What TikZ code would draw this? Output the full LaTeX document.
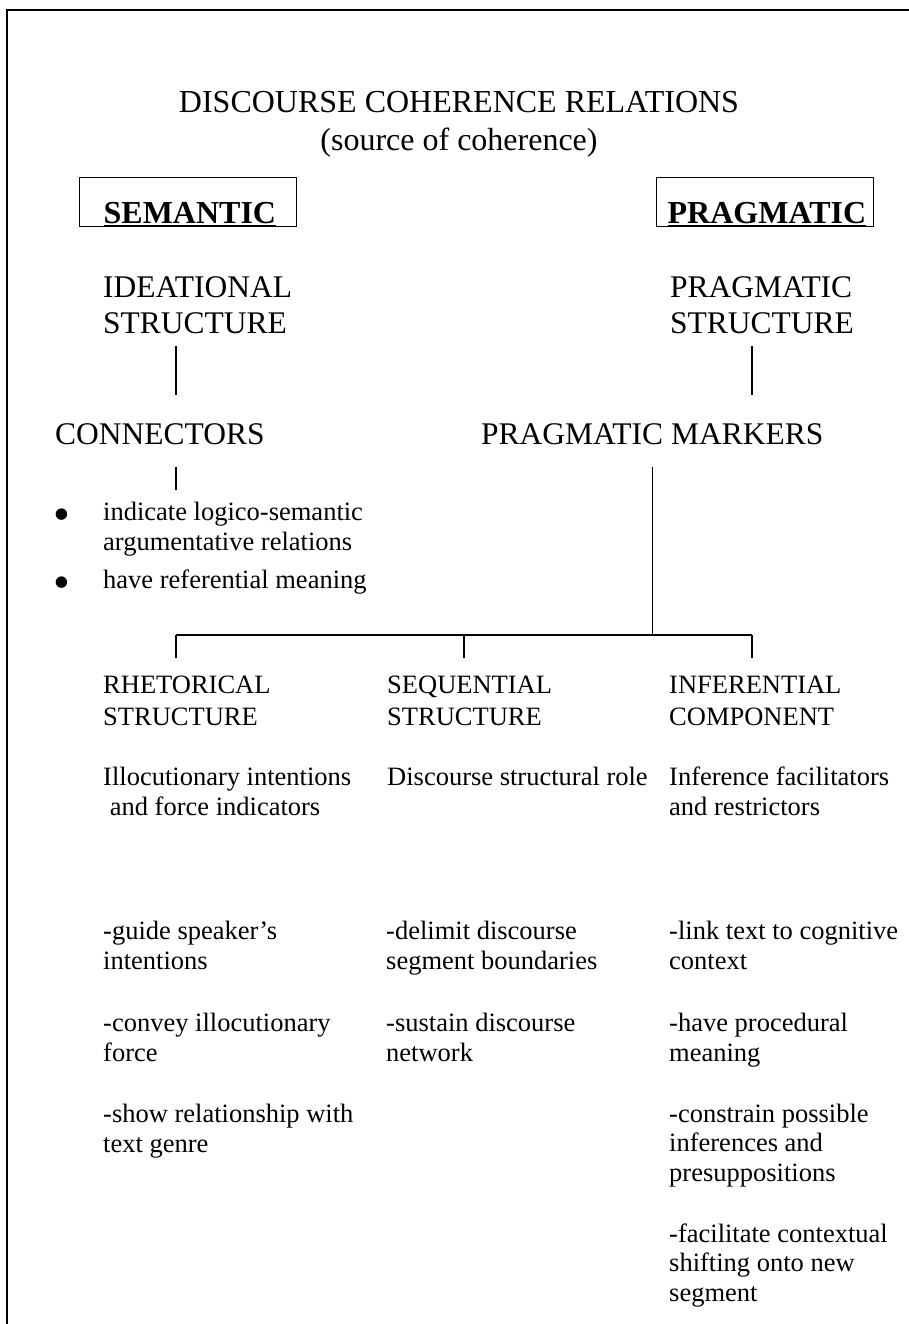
\documentclass[tikz,border=0pt]{standalone}
\usepackage{fontspec}
\setmainfont{Liberation Serif}
\usepackage{tikz}
\newcommand{\dctitle}{\fontsize{32}{38}\selectfont}
\newcommand{\dchead}{\fontsize{31.5}{36}\selectfont}
\newcommand{\dcbranch}{\fontsize{26.5}{32}\selectfont}
\newcommand{\dcbody}{\fontsize{26.5}{29.5}\selectfont}

\begin{document}
\begin{tikzpicture}[x=1pt,y=-1pt,
  every node/.style={inner sep=0pt},
  head/.style={font=\dchead,align=left,anchor=base west},
  branch/.style={font=\dcbranch,align=left,anchor=base west},
  body/.style={font=\dcbody,align=left,anchor=base west},
  dot/.style={font=\fontsize{48}{48}\selectfont,anchor=base west},
  kind/.style={draw,line width=1.3pt,font=\fontsize{32}{37}\selectfont\bfseries,
    inner xsep=11pt,text width=195pt,align=left,text height=46pt,text depth=3pt,
    anchor=south west},
  wire/.style={line width=1.3pt}
]
  \useasboundingbox (0,0) rectangle (909,1324);
  \draw[line width=1.8pt] (7,1324) -- (7,10) -- (909,10);

  \node[font=\dctitle,anchor=base] (title) at (459,113) {DISCOURSE COHERENCE RELATIONS};
  \node[font=\dctitle,anchor=base] (source) at (459,151) {(source of coherence)};

  \node[kind,inner xsep=24pt,text width=169pt] (sem) at (79,227) {\underline{SEMANTIC}};
  \node[kind] (prag) at (656,227) {\underline{PRAGMATIC}};

  % multi-line nodes sit on the baseline of their last line
  \node[head] (ideat) at (103,333) {IDEATIONAL\\STRUCTURE};
  \node[head] (pstruct) at (670,333) {PRAGMATIC\\STRUCTURE};
  \node[head] (conn) at (55,444) {CONNECTORS};
  \node[head] (marks) at (481,444) {PRAGMATIC MARKERS};

  % connector properties
  \node[dot] (dot1) at (53,530) {\textbullet};
  \node[body] (arg) at (103,550) {indicate logico-semantic\\argumentative relations};
  \node[dot] (dot2) at (53,598) {\textbullet};
  \node[body] (ref) at (103,588) {have referential meaning};

  % three components of the pragmatic side
  \node[branch] (rhet) at (103,725) {RHETORICAL\\STRUCTURE};
  \node[branch] (seq) at (387,725) {SEQUENTIAL\\STRUCTURE};
  \node[branch] (infer) at (669,725) {INFERENTIAL\\COMPONENT};

  \node[body] (rhetrole) at (103,815) {Illocutionary intentions\\\hspace{0.25em}and force indicators};
  \node[body] (seqrole) at (387,785) {Discourse structural role};
  \node[body] (infrole) at (669,815) {Inference facilitators\\and restrictors};

  \node[body] (guide) at (103,969) {-guide speaker’s\\intentions};
  \node[body] (convey) at (103,1061) {-convey illocutionary\\force};
  \node[body] (show) at (103,1152) {-show relationship with\\text genre};

  \node[body] (delimit) at (386,969) {-delimit discourse\\segment boundaries};
  \node[body] (sustain) at (386,1061) {-sustain discourse\\network};

  \node[body] (cogn) at (669,969) {-link text to cognitive\\context};
  \node[body] (proc) at (669,1061) {-have procedural\\meaning};
  \node[body] (constr) at (669,1181) {-constrain possible\\inferences and\\presuppositions};
  \node[body] (shift) at (669,1301) {-facilitate contextual\\shifting onto new\\segment};

  % tree lines
  \coordinate (cl) at (176,635);
  \coordinate (cm) at (464,635);
  \coordinate (cr) at (752,635);
  \draw[wire] ([yshift=-12pt]ideat.south -| cl) -- ([yshift=28pt]conn.north -| cl);
  \draw[wire] ([yshift=-12pt]pstruct.south -| cr) -- ([yshift=28pt]marks.north -| cr);
  \draw[wire] ([yshift=-22pt]conn.south -| cl) -- ([yshift=12pt]arg.north -| cl);
  \draw[wire] ([yshift=-22pt]marks.south) -- (marks.south |- cl);
  \draw[wire] (cl) -- (cr);
  \foreach \col/\nd in {cl/rhet,cm/seq,cr/infer}
    \draw[wire] (\col) -- ([yshift=17pt]\nd.north -| \col);
\end{tikzpicture}
\end{document}
